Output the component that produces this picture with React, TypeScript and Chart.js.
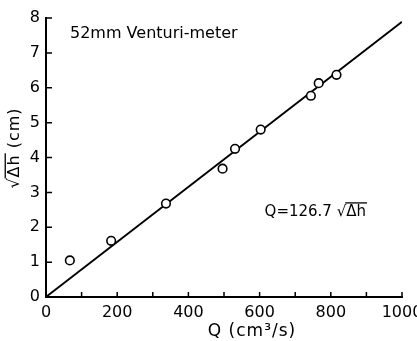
import React, { useEffect, useRef } from 'react';
import { Chart, registerables } from 'chart.js';

Chart.register(...registerables);

// Measured flow rate Q (cm³/s) and square root of the head difference √Δh (cm)
const flowRates = [67, 183, 337, 496, 531, 603, 744, 766, 816];
const sqrtHead = [1.05, 1.61, 2.68, 3.68, 4.25, 4.8, 5.77, 6.13, 6.37];

// Calibration line Q = 126.7 √Δh
const fitCoefficient = 126.7;
const fitRange = [0, 1000];

const xMin = 0;
const xMax = 1000;
const xStep = 100;
const xLabelEvery = 200;
const yMin = 0;
const yMax = 8;
const yStep = 1;

const FONT = '"DejaVu Sans", sans-serif';

// Draws text of the form  prefix √(radicand) suffix  with a vinculum over the radicand
function drawRadical(ctx: CanvasRenderingContext2D, prefix: string, radicand: string, suffix: string, x: number, y: number, size: number) {
  ctx.font = `${size}px ${FONT}`;
  ctx.textBaseline = 'alphabetic';
  ctx.textAlign = 'left';
  const head = prefix + '√';
  const wHead = ctx.measureText(head).width;
  const wRad = ctx.measureText(radicand).width;
  ctx.fillText(head, x, y);
  ctx.fillText(radicand, x + wHead, y);
  ctx.fillText(suffix, x + wHead + wRad, y);
  ctx.beginPath();
  ctx.lineWidth = 1.3;
  const barY = y - size * 0.86;
  ctx.moveTo(x + wHead - 1, barY);
  ctx.lineTo(x + wHead + wRad + 1, barY);
  ctx.stroke();
}

function radicalWidth(ctx: CanvasRenderingContext2D, prefix: string, radicand: string, suffix: string, size: number) {
  ctx.font = `${size}px ${FONT}`;
  return ctx.measureText(prefix + '√' + radicand + suffix).width;
}

const inwardTicks = {
  id: 'inwardTicks',
  afterDraw(chart: any) {
    const ctx = chart.ctx as CanvasRenderingContext2D;
    const xs = chart.scales.x;
    const ys = chart.scales.y;
    ctx.save();
    ctx.strokeStyle = '#000';
    ctx.lineWidth = 1.5;
    ctx.beginPath();
    xs.ticks.forEach((t: any) => {
      if (t.value === xMin) return;
      const px = xs.getPixelForValue(t.value);
      ctx.moveTo(px, xs.top);
      ctx.lineTo(px, xs.top - 5);
    });
    ys.ticks.forEach((t: any) => {
      if (t.value === yMin) return;
      const py = ys.getPixelForValue(t.value);
      ctx.moveTo(ys.right, py);
      ctx.lineTo(ys.right + 6, py);
    });
    ctx.stroke();
    ctx.restore();
  },
};

const textLayer = {
  id: 'textLayer',
  afterDraw(chart: any) {
    const ctx = chart.ctx as CanvasRenderingContext2D;
    const xs = chart.scales.x;
    const ys = chart.scales.y;
    const area = chart.chartArea;
    ctx.save();
    ctx.fillStyle = '#000';
    ctx.strokeStyle = '#000';

    // Title inside the plot
    ctx.font = `16px ${FONT}`;
    ctx.textBaseline = 'middle';
    ctx.textAlign = 'left';
    ctx.fillText('52mm Venturi-meter', area.left + 24, area.top + 16);

    // Fit equation
    drawRadical(ctx, 'Q=126.7 ', 'Δh', '', xs.getPixelForValue(614), ys.getPixelForValue(2.5) + 6, 15);

    // X axis title
    ctx.save();
    ctx.font = `17px ${FONT}`;
    (ctx as any).letterSpacing = '1px';
    ctx.textAlign = 'center';
    ctx.textBaseline = 'middle';
    ctx.fillText('Q (cm³/s)', 252, 332);
    ctx.restore();

    // Y axis title, rotated
    ctx.translate(13, 148);
    ctx.rotate(-Math.PI / 2);
    (ctx as any).letterSpacing = '1px';
    const w = radicalWidth(ctx, '', 'Δh', ' (cm)', 16);
    drawRadical(ctx, '', 'Δh', ' (cm)', -w / 2, 6, 16);
    ctx.restore();
  },
};

export default function App() {
  const canvasRef = useRef<HTMLCanvasElement | null>(null);

  useEffect(() => {
    document.body.style.margin = '0';
    const canvas = canvasRef.current;
    if (!canvas) return;

    const chart = new Chart(canvas, {
      type: 'scatter',
      data: {
        datasets: [
          {
            label: 'measured',
            data: flowRates.map((q, i) => ({ x: q, y: sqrtHead[i] })),
            pointRadius: 4.3,
            pointBorderWidth: 1.6,
            pointBackgroundColor: '#fff',
            pointBorderColor: '#000',
            showLine: false,
            order: 0,
          },
          {
            label: 'fit',
            type: 'line',
            data: fitRange.map((q) => ({ x: q, y: q / fitCoefficient })),
            borderColor: '#000',
            borderWidth: 1.8,
            pointRadius: 0,
            fill: false,
            order: 1,
          },
        ],
      },
      options: {
        animation: false,
        responsive: false,
        layout: { padding: { top: 18, right: 15, left: 0, bottom: 0 } },
        plugins: {
          legend: { display: false },
          tooltip: { enabled: false },
        },
        scales: {
          x: {
            type: 'linear',
            min: xMin,
            max: xMax,
            grid: { display: false, drawTicks: false },
            border: { display: true, color: '#000', width: 2 },
            ticks: {
              stepSize: xStep,
              autoSkip: false,
              maxRotation: 0,
              padding: 6,
              color: '#000',
              font: { family: FONT, size: 16 },
              callback: (v: any) => (Number(v) % xLabelEvery === 0 ? String(v) : ''),
            },
            afterFit: (s: any) => {
              s.height = 44;
              s.paddingLeft = 0;
              s.paddingRight = 0;
            },
          },
          y: {
            type: 'linear',
            min: yMin,
            max: yMax,
            grid: { display: false, drawTicks: false },
            border: { display: true, color: '#000', width: 2 },
            ticks: {
              stepSize: yStep,
              padding: 6,
              color: '#000',
              font: { family: FONT, size: 16 },
            },
            afterFit: (s: any) => {
              s.width = 46;
              s.paddingTop = 0;
              s.paddingBottom = 0;
            },
          },
        },
      },
      plugins: [inwardTicks, textLayer],
    });

    return () => chart.destroy();
  }, []);

  return (
    <div style={{ width: 417, height: 341, background: '#fff' }}>
      <canvas ref={canvasRef} width={417} height={341} />
    </div>
  );
}
